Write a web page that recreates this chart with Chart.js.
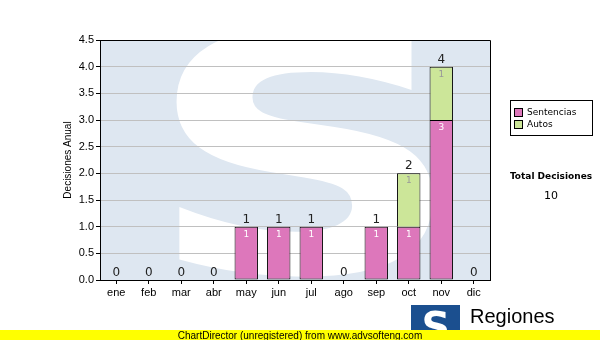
<!DOCTYPE html>
<html>
<head>
<meta charset="utf-8">
<script src="https://cdn.jsdelivr.net/npm/chart.js@4"></script>
<style>
  body { margin: 0; background: #fff; }
  #wrap { position: relative; width: 600px; height: 340px; }
</style>
</head>
<body>
<div id="wrap"><canvas id="decisionesChart" width="600" height="340"></canvas></div>
<script>
var meses = ['ene', 'feb', 'mar', 'abr', 'may', 'jun', 'jul', 'ago', 'sep', 'oct', 'nov', 'dic'];
var sentencias = [0, 0, 0, 0, 1, 1, 1, 0, 1, 1, 3, 0];
var autos = [0, 0, 0, 0, 0, 0, 0, 0, 0, 1, 1, 0];
var yTicks = [0, 0.5, 1, 1.5, 2, 2.5, 3, 3.5, 4, 4.5];

// fondo del area del grafico con la S de marca de agua
var fondoPlugin = {
    id: 'fondo',
    beforeDraw: function (chart) {
        var ctx = chart.ctx, a = chart.chartArea;
        ctx.save();
        ctx.fillStyle = '#dee7f1';
        ctx.fillRect(a.left, a.top, a.right - a.left, a.bottom - a.top);
        ctx.beginPath();
        ctx.rect(a.left, a.top, a.right - a.left, a.bottom - a.top);
        ctx.clip();
        ctx.translate(305, 272);
        ctx.scale(1.35, 1);
        ctx.fillStyle = '#ffffff';
        ctx.font = 'bold 330px "DejaVu Sans"';
        ctx.textAlign = 'center';
        ctx.textBaseline = 'alphabetic';
        ctx.fillText('S', 0, 0);
        ctx.restore();
    }
};

// etiquetas de valores dentro de las barras y totales encima
var etiquetasPlugin = {
    id: 'etiquetas',
    afterDatasetsDraw: function (chart) {
        var ctx = chart.ctx;
        var y = chart.scales.y;
        ctx.save();
        ctx.textAlign = 'center';
        chart.data.datasets.forEach(function (ds, i) {
            var meta = chart.getDatasetMeta(i);
            meta.data.forEach(function (bar, j) {
                if (ds.data[j] > 0) {
                    ctx.font = '9px "DejaVu Sans"';
                    ctx.textBaseline = 'top';
                    ctx.fillStyle = i === 0 ? '#ffffff' : '#999999';
                    ctx.fillText(ds.data[j], bar.x, bar.y + 3);
                }
            });
        });
        var meta0 = chart.getDatasetMeta(0);
        meses.forEach(function (m, j) {
            var total = sentencias[j] + autos[j];
            ctx.font = '12px "DejaVu Sans"';
            ctx.textBaseline = 'bottom';
            ctx.fillStyle = '#222222';
            ctx.fillText(total, meta0.data[j].x, y.getPixelForValue(total) - 1);
        });
        ctx.restore();
    },
    afterDraw: function (chart) {
        var ctx = chart.ctx, a = chart.chartArea;
        ctx.save();
        // marco del area
        ctx.strokeStyle = '#000';
        ctx.lineWidth = 1;
        ctx.beginPath();
        ctx.moveTo(a.left, a.top + 0.5);
        ctx.lineTo(a.right + 0.5, a.top + 0.5);
        ctx.lineTo(a.right + 0.5, a.bottom);
        ctx.stroke();

        // leyenda
        ctx.strokeRect(510.5, 100.5, 82, 35);
        ctx.font = '9px "DejaVu Sans"';
        ctx.textAlign = 'left';
        ctx.textBaseline = 'middle';
        chart.data.datasets.forEach(function (ds, i) {
            var yy = 113 + i * 12;
            ctx.fillStyle = ds.backgroundColor;
            ctx.fillRect(514.5, yy - 4.5, 8, 8);
            ctx.strokeRect(514.5, yy - 4.5, 8, 8);
            ctx.fillStyle = '#000';
            ctx.fillText(ds.label, 527, yy);
        });

        // total
        var total = 0;
        for (var k = 0; k < meses.length; k++) total += sentencias[k] + autos[k];
        ctx.textAlign = 'center';
        ctx.font = 'bold 9px "DejaVu Sans"';
        ctx.fillText('Total Decisiones', 551, 177);
        ctx.font = '11px "DejaVu Sans"';
        ctx.fillText(String(total), 551, 196);

        // logo
        ctx.fillStyle = '#1b4f8f';
        ctx.fillRect(411, 305, 49, 30);
        ctx.fillStyle = '#fff';
        ctx.font = 'bold 40px "DejaVu Sans"';
        ctx.textBaseline = 'alphabetic';
        ctx.fillText('S', 436, 341);
        ctx.fillStyle = '#000';
        ctx.textAlign = 'left';
        ctx.font = '20px "Liberation Sans"';
        ctx.fillText('Regiones', 470, 323);

        // banda amarilla
        ctx.fillStyle = '#ffff00';
        ctx.fillRect(0, 330, 600, 10);
        ctx.fillStyle = '#000';
        ctx.textAlign = 'center';
        ctx.font = '10px "Liberation Sans"';
        ctx.fillText('ChartDirector (unregistered) from www.advsofteng.com', 300, 339);
        ctx.restore();
    }
};

document.addEventListener('DOMContentLoaded', function () {
    var ctx = document.getElementById('decisionesChart').getContext('2d');
    new Chart(ctx, {
        type: 'bar',
        data: {
            labels: meses,
            datasets: [{
                label: 'Sentencias',
                data: sentencias,
                backgroundColor: '#dd77bb',
                borderColor: '#000',
                borderWidth: 1,
                borderSkipped: false,
                barPercentage: 0.72,
                categoryPercentage: 1
            }, {
                label: 'Autos',
                data: autos,
                backgroundColor: '#cce699',
                borderColor: '#000',
                borderWidth: 1,
                borderSkipped: 'start',
                barPercentage: 0.72,
                categoryPercentage: 1
            }]
        },
        options: {
            responsive: false,
            animation: false,
            layout: { padding: { left: 62, right: 110, top: 40, bottom: 40 } },
            plugins: {
                legend: { display: false },
                tooltip: { enabled: false }
            },
            scales: {
                x: {
                    stacked: true,
                    grid: { offset: false, drawOnChartArea: false, tickLength: 4, color: '#000' },
                    border: { color: '#000' },
                    ticks: { color: '#000', padding: 2, font: { family: 'Liberation Sans', size: 11 } },
                    afterFit: function (s) { s.height = 20; }
                },
                y: {
                    stacked: true,
                    min: 0,
                    max: 4.5,
                    afterBuildTicks: function (s) { s.ticks = yTicks.map(function (v) { return { value: v }; }); },
                    grid: { color: '#c0c0c0', tickColor: '#000', tickLength: 4 },
                    border: { color: '#000' },
                    ticks: {
                        color: '#000',
                        padding: 2,
                        font: { family: 'Liberation Sans', size: 11 },
                        callback: function (v) { return v.toFixed(1); }
                    },
                    title: {
                        display: true,
                        text: 'Decisiones Anual',
                        color: '#000',
                        padding: 0,
                        font: { family: 'Liberation Sans', size: 10 }
                    },
                    afterFit: function (s) { s.width = 38; }
                }
            }
        },
        plugins: [fondoPlugin, etiquetasPlugin]
    });
});
</script>
</body>
</html>
